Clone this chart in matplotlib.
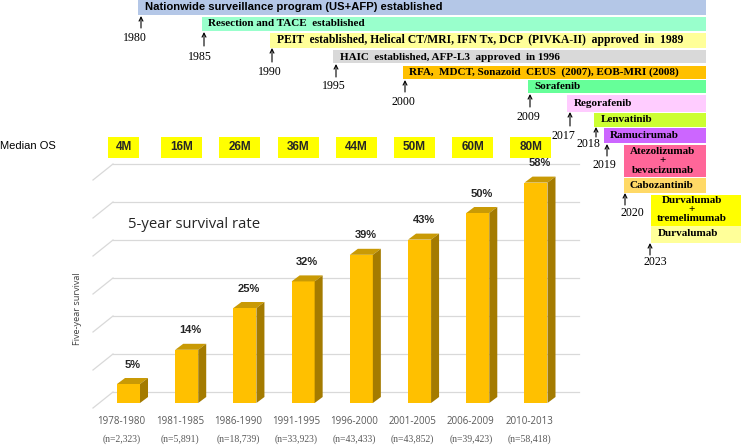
import matplotlib
matplotlib.use("Agg")
import matplotlib.pyplot as plt
from matplotlib.patches import Polygon, Rectangle

# ---------------- data ----------------
periods = ["1978-1980", "1981-1985", "1986-1990", "1991-1995",
           "1996-2000", "2001-2005", "2006-2009", "2010-2013"]
n_labels = ["(n=2,323)", "(n=5,891)", "(n=18,739)", "(n=33,923)",
            "(n=43,433)", "(n=43,852)", "(n=39,423)", "(n=58,418)"]
survival_5yr = [5, 14, 25, 32, 39, 43, 50, 58]
median_os = ["4M", "16M", "26M", "36M", "44M", "50M", "60M", "80M"]
grid_values = [0, 10, 20, 30, 40, 50, 60]

event_texts = [
    "Nationwide surveillance program (US+AFP) established",
    "Resection and TACE  established",
    "PEIT  established, Helical CT/MRI, IFN Tx, DCP  (PIVKA-II)  approved  in  1989",
    "HAIC  established, AFP-L3  approved  in 1996",
    "RFA,  MDCT, Sonazoid  CEUS  (2007), EOB-MRI (2008)",
    "Sorafenib",
    "Regorafenib",
    "Lenvatinib",
    "Ramucirumab",
    "Atezolizumab\n+\nbevacizumab",
    "Cabozantinib",
    "Durvalumab\n+\ntremelimumab",
    "Durvalumab",
]
event_colors = ["#B4C7E7", "#99FFCC", "#FFFF99", "#D9D9D9", "#FFC000",
                "#66FF99", "#FFCCFF", "#CCFF33", "#CC66FF", "#FF6699",
                "#FFD966", "#FFFF00", "#FFFF99"]
years = ["1980", "1985", "1990", "1995", "2000", "2009",
         "2017", "2018", "2019", "2020", "2023"]

# ---------------- layout (pixels) ----------------
W, H = 741, 446
fig = plt.figure(figsize=(W / 100, H / 100), dpi=100)

# event boxes: left, top, bottom, right, text anchor (x, y, ha), font size
ev_layout = [
    (138, 0, 14.5, 706, 145, 7.5, "left", 8.1),
    (202, 16.7, 31, 706, 208, 24, "left", 8),
    (270, 33.3, 47.7, 706, 277, 40.5, "left", 8.4),
    (333, 50, 63.3, 706, 340, 57, "left", 8),
    (403, 65.7, 79, 706, 409, 72.5, "left", 8),
    (528, 80, 93.3, 706, 534, 86.7, "left", 8),
    (567, 95, 111.7, 706, 574, 103, "left", 8),
    (594, 113.3, 126.7, 706, 601, 120, "left", 8),
    (604, 128.3, 143.3, 706, 610, 135.5, "left", 8),
    (624, 145, 176.7, 706, 663, 161, "center", 8),
    (624, 177.7, 193.3, 706, 661, 185.5, "center", 8),
    (651, 195, 225.7, 741, 692, 209.5, "center", 8),
    (651, 225.7, 242.7, 741, 658, 233, "left", 8),
]
# year label centre (x, y), arrow x, arrow head y, arrow tail y
yr_layout = [
    (135, 38, 141, 16, 28),
    (200, 57, 204, 32, 46),
    (270, 72, 272, 48, 62),
    (334, 86, 336, 64, 77),
    (403, 102, 405, 80, 92),
    (528, 117, 530, 94, 107),
    (563, 136, 570, 112, 126),
    (588, 144, 596, 127, 137),
    (604, 165, 607, 144, 156),
    (632, 213, 625, 193, 205),
    (655, 262, 650, 243, 255),
]

# background axes (pixel coordinates) for back wall grid
bg = fig.add_axes([0, 0, 1, 1], zorder=0)
bg.set_xlim(0, W); bg.set_ylim(H, 0); bg.axis("off")
back_zero_y, px_per_pct = 392, 3.8
grid_x0, grid_x1, diag_dx, diag_dy = 113, 579, 20, 16
for v in grid_values:
    yb = back_zero_y - px_per_pct * v
    bg.plot([grid_x0, grid_x1], [yb, yb], color="#D9D9D9", lw=0.9)
    bg.plot([grid_x0 - diag_dx, grid_x0], [yb + diag_dy, yb], color="#D9D9D9", lw=0.9)

# bar axes (front plane of the bars)
x_left_px, x_right_px = 99.4, 565.1
front_zero_y = 403
ax = fig.add_axes([x_left_px / W, (H - front_zero_y) / H,
                   (x_right_px - x_left_px) / W, 60 * px_per_pct / H], zorder=1)
ax.set_xlim(-0.5, 7.5)
ax.set_ylim(0, 60)
ax.axis("off")

px_per_cat = (x_right_px - x_left_px) / 8
bar_w = 23 / px_per_cat
ddx = 8 / px_per_cat
ddy = 6 / px_per_pct
front_c, top_c, side_c = "#FFC000", "#C99A05", "#A47B00"

xs = list(range(len(periods)))
ax.bar(xs, survival_5yr, width=bar_w, color=front_c, zorder=2, clip_on=False)
for i, v in zip(xs, survival_5yr):
    x0, x1 = i - bar_w / 2, i + bar_w / 2
    ax.add_patch(Polygon([(x0, v), (x1, v), (x1 + ddx, v + ddy), (x0 + ddx, v + ddy)],
                         closed=True, facecolor=top_c, edgecolor="none", zorder=3, clip_on=False))
    ax.add_patch(Polygon([(x1, 0), (x1 + ddx, ddy), (x1 + ddx, v + ddy), (x1, v)],
                         closed=True, facecolor=side_c, edgecolor="none", zorder=3, clip_on=False))
    ax.annotate(f"{v}%", xy=(i + ddx / 2, v + ddy), xytext=(0, 6), textcoords="offset points",
                ha="center", va="bottom", fontsize=8, fontweight="bold",
                family="Liberation Sans", color="#262626", annotation_clip=False)
    ax.annotate(periods[i], xy=(i, 0), xytext=(-5, -13), textcoords="offset points",
                ha="center", va="center", fontsize=7, family="Open Sans",
                color="#595959", annotation_clip=False)
    ax.annotate(n_labels[i], xy=(i, 0), xytext=(-5, -26), textcoords="offset points",
                ha="center", va="center", fontsize=7, family="Liberation Serif",
                color="#595959", annotation_clip=False)

# overlay axes (pixel coordinates)
ov = fig.add_axes([0, 0, 1, 1], zorder=3)
ov.set_xlim(0, W); ov.set_ylim(H, 0); ov.axis("off")

# median OS boxes aligned with bar categories
for i, lab in enumerate(median_os):
    cx = ax.transData.transform((i, 0))[0] - 5
    bw = 31 if len(lab) <= 2 else 41
    ov.add_patch(Rectangle((cx - bw / 2, 137), bw, 21, facecolor="#FFFF00", edgecolor="none"))
    ov.text(cx, 147.5, lab, ha="center", va="center", fontsize=8.5, fontweight="bold",
            family="Liberation Sans", color="#262626")
ov.text(0, 146, "Median OS", ha="left", va="center", fontsize=8, family="Liberation Sans",
        color="#000000")

ov.text(128, 224, "5-year survival rate", ha="left", va="center", fontsize=10.7,
        family="Open Sans", color="#262626")
ov.text(77, 309, "Five-year survival", ha="center", va="center", rotation=90,
        fontsize=6.6, family="Open Sans", color="#404040")

# timeline events
for k, (txt, col) in enumerate(zip(event_texts, event_colors)):
    l, t, b, r, tx, ty, ha, fs = ev_layout[k]
    ov.add_patch(Rectangle((l, t), r - l, b - t, facecolor=col, edgecolor="none"))
    if k == 0:
        ov.text(tx, ty, txt, ha=ha, va="center", fontsize=fs, fontweight="bold",
                family="Liberation Sans", color="black")
    else:
        ov.text(tx, ty, txt, ha=ha, va="center", fontsize=fs, fontweight="bold",
                family="Liberation Serif", color="black", linespacing=1.05)

for yr, (lx, ly, axx, hy, ty) in zip(years, yr_layout):
    ov.text(lx, ly, yr, ha="center", va="center", fontsize=8.6,
            family="Liberation Serif", color="black")
    ov.annotate("", xy=(axx, hy), xytext=(axx, ty),
                arrowprops=dict(arrowstyle="->", lw=0.8, color="black",
                                shrinkA=0, shrinkB=0, mutation_scale=7))

fig.savefig("out.png", dpi=100)
